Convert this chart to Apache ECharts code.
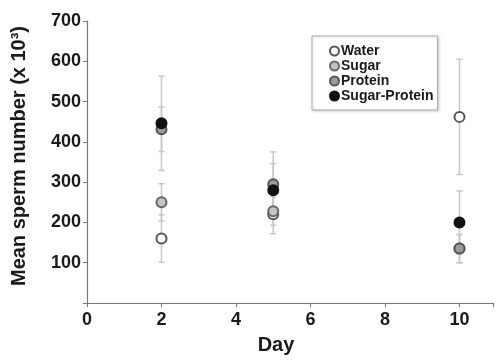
<!DOCTYPE html>
<html>
<head>
<meta charset="utf-8">
<script src="https://cdn.jsdelivr.net/npm/echarts@6/dist/echarts.min.js"></script>
<style>
  html, body { margin: 0; padding: 0; background: #fff; }
  #chart { width: 496px; height: 360px; }
</style>
</head>
<body>
<div id="chart"></div>
<script>
// values
const days = [2, 5, 10];
const water = [160, 220, 462];
const waterErr = [59, 48, 143];
const sugar = [250, 228, 135];
const sugarErr = [46, 35, 35];
const protein = [431, 295, 135];
const proteinErr = [55, 80, 35];
const sugarProtein = [446, 280, 200];
const sugarProteinErr = [117, 66, 78];

const groups = [
  {name: 'Water', vals: water, err: waterErr, fill: '#ffffff', edge: '#555555'},
  {name: 'Sugar', vals: sugar, err: sugarErr, fill: '#c4c4c4', edge: '#666666'},
  {name: 'Protein', vals: protein, err: proteinErr, fill: '#9a9a9a', edge: '#555555'},
  {name: 'Sugar-Protein', vals: sugarProtein, err: sugarProteinErr, fill: '#111111', edge: '#111111'}
];

const chart = echarts.init(document.getElementById('chart'));

// error bars: [day, low, high]
let errData = [];
groups.forEach(function (g) {
  days.forEach(function (d, i) {
    errData.push([d, g.vals[i] - g.err[i], g.vals[i] + g.err[i]]);
  });
});

let series = [{
  type: 'custom',
  name: 'err',
  silent: true,
  z: 1,
  data: errData,
  encode: {x: 0, y: [1, 2]},
  renderItem: function (params, api) {
    const lo = api.coord([api.value(0), api.value(1)]);
    const hi = api.coord([api.value(0), api.value(2)]);
    const w = 3;
    const st = {stroke: '#c6c6c6', lineWidth: 1.5};
    return {
      type: 'group',
      children: [
        {type: 'line', shape: {x1: lo[0], y1: lo[1], x2: hi[0], y2: hi[1]}, style: st},
        {type: 'line', shape: {x1: lo[0] - w, y1: lo[1], x2: lo[0] + w, y2: lo[1]}, style: st},
        {type: 'line', shape: {x1: hi[0] - w, y1: hi[1], x2: hi[0] + w, y2: hi[1]}, style: st}
      ]
    };
  }
}].concat(groups.map(function (g) {
  return {
    type: 'scatter',
    name: g.name,
    z: 3,
    symbol: 'circle',
    symbolSize: 10,
    itemStyle: {color: g.fill, borderColor: g.edge, borderWidth: 2, opacity: 1},
    data: days.map(function (d, i) { return [d, g.vals[i]]; })
  };
}));

const labelFont = {fontFamily: 'Liberation Sans, Arial, sans-serif', fontWeight: 'bold', color: '#1a1a1a'};

chart.setOption({
  animation: false,
  grid: {left: 87, right: 1, top: 21, bottom: 49},
  legend: {
    data: groups.map(function (g) { return g.name; }),
    orient: 'vertical',
    left: 312,
    top: 36,
    width: 125,
    padding: [8, 4, 7, 17],
    itemWidth: 9,
    itemHeight: 9,
    itemGap: 1,
    icon: 'circle',
    backgroundColor: '#fff',
    borderColor: '#aaaaaa',
    borderWidth: 1,
    shadowColor: 'rgba(0,0,0,0.18)',
    shadowBlur: 3,
    shadowOffsetX: 1,
    shadowOffsetY: 1,
    textStyle: Object.assign({fontSize: 14, padding: [0, 0, 0, -3]}, labelFont)
  },
  xAxis: {
    type: 'value',
    min: 0,
    max: 10.9,
    interval: 2,
    name: 'Day',
    nameLocation: 'middle',
    nameGap: 32,
    nameTextStyle: Object.assign({fontSize: 20, padding: [0, 28, 0, 0]}, labelFont),
    splitLine: {show: false},
    axisLine: {lineStyle: {color: '#777', width: 1.2}},
    axisTick: {length: 4, lineStyle: {color: '#777'}},
    axisLabel: Object.assign({
      fontSize: 18, margin: 8,
      formatter: function (v) { return v % 2 === 0 ? String(v) : ''; }
    }, labelFont)
  },
  yAxis: {
    type: 'value',
    min: 0,
    max: 700,
    interval: 100,
    name: 'Mean sperm number (x 10³)',
    nameLocation: 'middle',
    nameGap: 58,
    nameTextStyle: Object.assign({fontSize: 20, padding: [0, 0, 0, 12]}, labelFont),
    splitLine: {show: false},
    axisLine: {show: true, lineStyle: {color: '#777', width: 1.2}},
    axisTick: {show: true, length: 4, lineStyle: {color: '#777'}},
    axisLabel: Object.assign({
      fontSize: 18, margin: 6,
      formatter: function (v) { return v === 0 ? '' : String(v); }
    }, labelFont)
  },
  series: series
});
</script>
</body>
</html>
